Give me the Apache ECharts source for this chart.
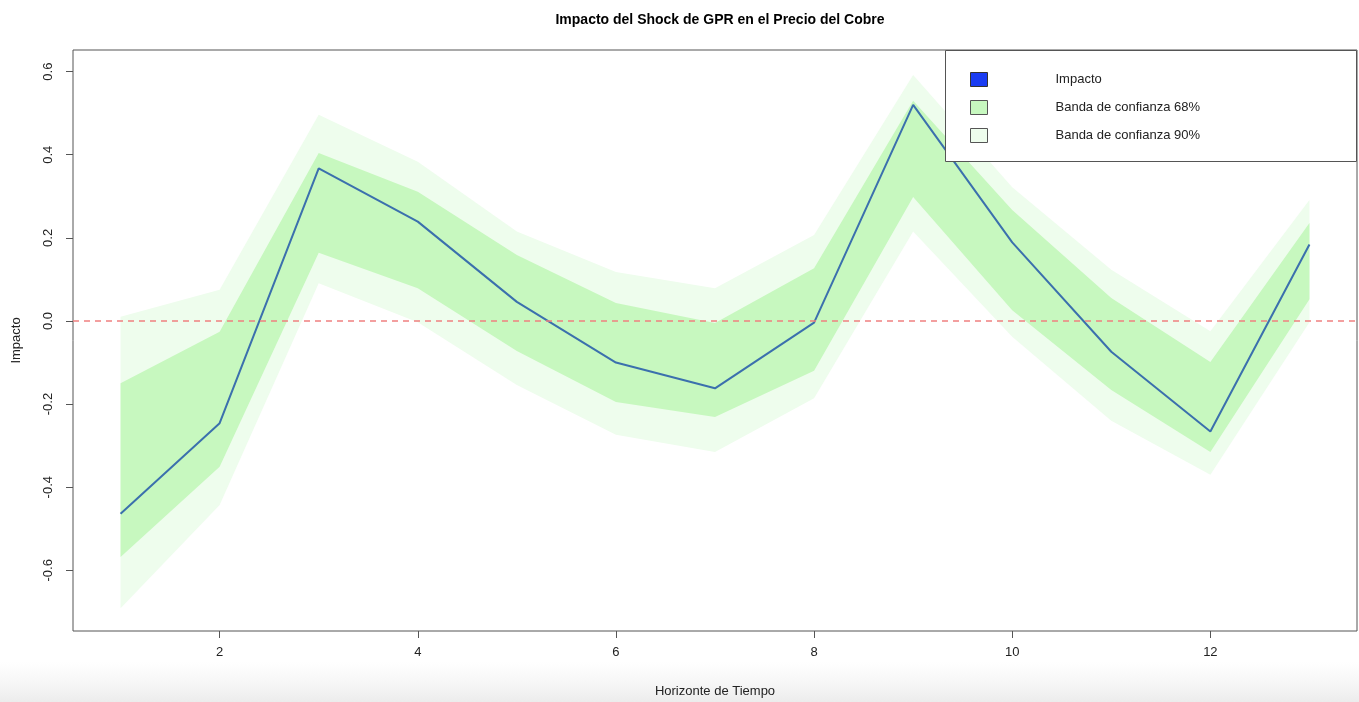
<!DOCTYPE html>
<html>
<head>
<meta charset="utf-8">
<script src="https://cdn.jsdelivr.net/npm/echarts@6/dist/echarts.min.js"></script>
<style>
html,body{margin:0;padding:0;background:#fff;}
#chart{width:1359px;height:702px;}
</style>
</head>
<body>
<div id="chart"></div>
<script>
// Data
var horizons = [1,2,3,4,5,6,7,8,9,10,11,12,13];
var impact = [-0.464,-0.246,0.367,0.239,0.046,-0.100,-0.162,-0.004,0.520,0.189,-0.074,-0.266,0.184];
var lo68 = [-0.568,-0.351,0.164,0.079,-0.072,-0.195,-0.231,-0.120,0.298,0.026,-0.166,-0.315,0.052];
var hi68 = [-0.150,-0.026,0.404,0.311,0.159,0.043,-0.005,0.127,0.530,0.267,0.055,-0.099,0.236];
var lo90 = [-0.691,-0.443,0.091,-0.003,-0.154,-0.274,-0.315,-0.186,0.215,-0.038,-0.240,-0.370,-0.003];
var hi90 = [0.010,0.075,0.496,0.383,0.215,0.118,0.079,0.207,0.592,0.322,0.123,-0.025,0.291];
var xTicks = [2,4,6,8,10,12];
var yTicks = [-0.6,-0.4,-0.2,0.0,0.2,0.4,0.6];
var titleText = 'Impacto del Shock de GPR en el Precio del Cobre';
var xTitle = 'Horizonte de Tiempo';
var yTitle = 'Impacto';
var names = ['Impacto','Banda de confianza 68%','Banda de confianza 90%'];

var C90 = '#eefded', C68 = '#c7f8bf', CLINE = '#3b70ad';
function pairs(arr){ return horizons.map(function(h,i){ return [h, arr[i]]; }); }
function bandRows(lo, hi){ return horizons.map(function(h,i){ return [h, lo[i], hi[i]]; }); }

// Polygon band drawn through the library's coordinate system
function bandRenderer(lo, hi, color){
  return function(params, api){
    if (params.dataIndex !== 0) return null;
    var pts = [], i;
    for (i = 0; i < horizons.length; i++) pts.push(api.coord([horizons[i], hi[i]]));
    for (i = horizons.length - 1; i >= 0; i--) pts.push(api.coord([horizons[i], lo[i]]));
    return {type:'polygon', shape:{points:pts}, style:{fill:color, stroke:null}};
  };
}

var FONT = '"Liberation Sans", Arial, Helvetica, sans-serif';
var chart = echarts.init(document.getElementById('chart'), null, {renderer:'canvas'});

chart.setOption({
  animation:false,
  backgroundColor:'#ffffff',
  title:{text:titleText, left:715, textAlign:'center', top:8,
    textStyle:{fontFamily:FONT, fontSize:14, fontWeight:'bold', color:'#000'}},
  grid:{left:73, right:2, top:50, bottom:71, show:true, borderColor:'#555', borderWidth:1,
    backgroundColor:'transparent', containLabel:false, outerBoundsMode:'none'},
  legend:{
    left:965, top:67, orient:'vertical', itemWidth:17, itemHeight:14, itemGap:13, z:10,
    textStyle:{fontFamily:FONT, fontSize:13, color:'#222', padding:[0,0,0,63]},
    data:[
      {name:names[0], icon:'rect', itemStyle:{color:'#1a3cf2', borderColor:'#333', borderWidth:1}},
      {name:names[1], icon:'rect', itemStyle:{color:C68, borderColor:'#555', borderWidth:1}},
      {name:names[2], icon:'rect', itemStyle:{color:C90, borderColor:'#555', borderWidth:1}}
    ],
    selectedMode:false
  },
  xAxis:{type:'value', min:0.52, max:13.48,
    name:xTitle, nameLocation:'middle', nameGap:54,
    nameTextStyle:{fontFamily:FONT, fontSize:13, color:'#222'},
    axisLine:{show:false, onZero:false},
    axisTick:{show:true, length:7, inside:false, customValues:xTicks, lineStyle:{color:'#555'}},
    axisLabel:{customValues:xTicks, margin:15, fontFamily:FONT, fontSize:13, color:'#222'},
    splitLine:{show:false}
  },
  yAxis:{type:'value', min:-0.746, max:0.652,
    name:yTitle, nameLocation:'middle', nameGap:50, nameRotate:90,
    nameTextStyle:{fontFamily:FONT, fontSize:13, color:'#222'},
    axisLine:{show:false, onZero:false},
    axisTick:{show:true, length:7, inside:false, customValues:yTicks, lineStyle:{color:'#555'}},
    axisLabel:{customValues:yTicks, margin:18, rotate:90, fontFamily:FONT, fontSize:13, color:'#222',
      formatter:function(v){ return v.toFixed(1); }},
    splitLine:{show:false}
  },
  graphic:[
    {type:'rect', z:-10, shape:{x:0, y:662, width:1359, height:40},
      style:{fill:new echarts.graphic.LinearGradient(0,0,0,1,[{offset:0,color:'rgba(240,240,240,0)'},{offset:1,color:'rgba(236,236,236,1)'}])}},
    {type:'rect', z:8, shape:{x:945.5, y:50.5, width:411, height:111},
      style:{fill:'#fff', stroke:'#555', lineWidth:1}}
  ],
  series:[
    {name:names[2], type:'custom', z:1, silent:true, itemStyle:{color:C90},
      data:bandRows(lo90, hi90), encode:{x:0, y:[1,2]},
      renderItem:bandRenderer(lo90, hi90, C90)},
    {name:names[1], type:'custom', z:1.5, silent:true, itemStyle:{color:C68},
      data:bandRows(lo68, hi68), encode:{x:0, y:[1,2]},
      renderItem:bandRenderer(lo68, hi68, C68)},
    {name:names[0], type:'line', data:pairs(impact), symbol:'none', z:3,
      itemStyle:{color:CLINE}, lineStyle:{color:CLINE, width:2},
      markLine:{silent:true, symbol:['none','none'], label:{show:false},
        lineStyle:{color:'#ef8080', type:[6,5], width:1.5},
        data:[{yAxis:0}]}
    }
  ]
});
</script>
</body>
</html>
